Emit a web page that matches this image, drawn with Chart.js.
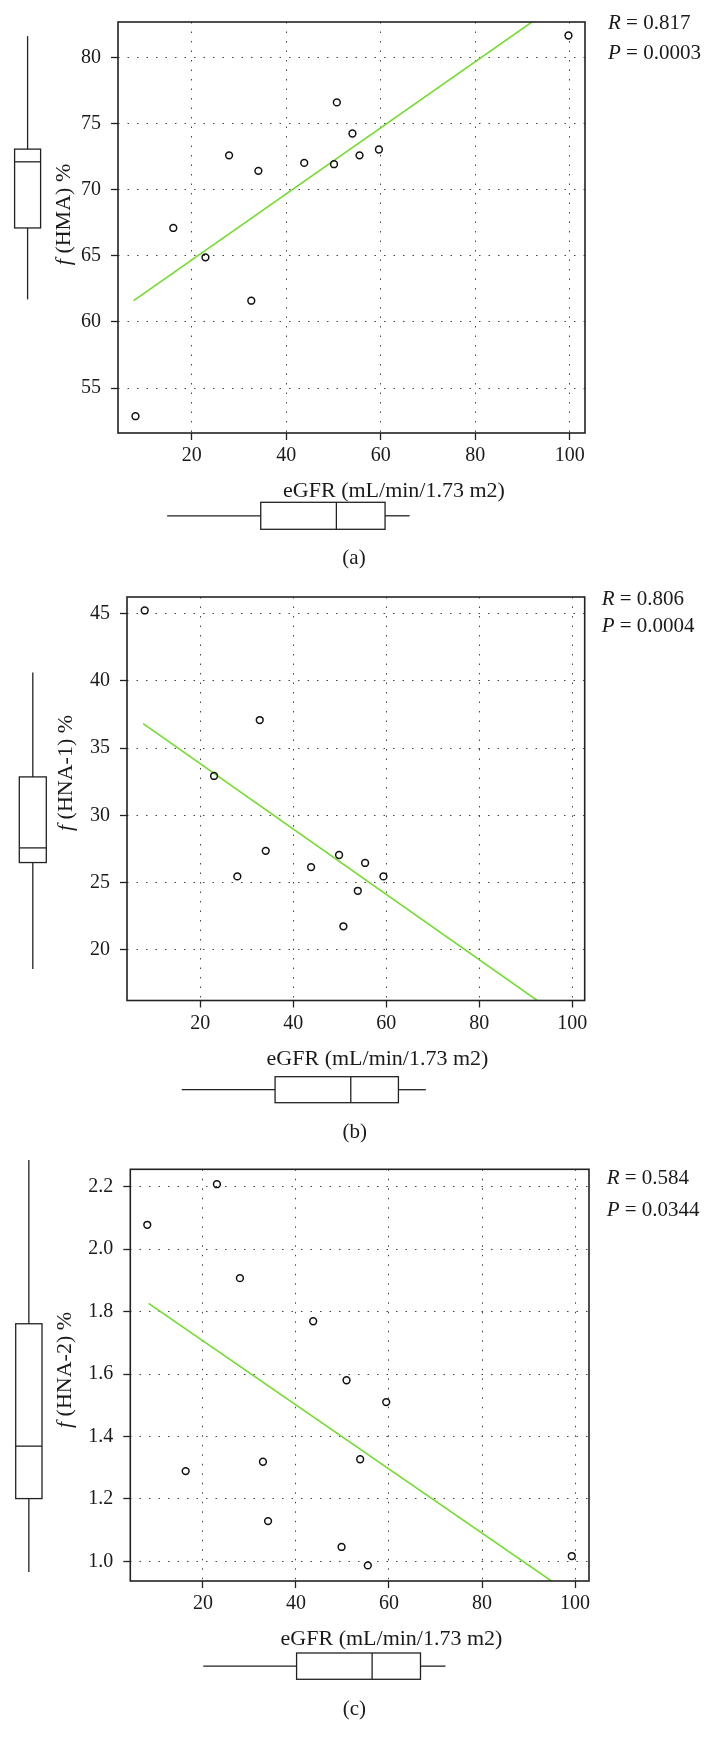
<!DOCTYPE html>
<html>
<head>
<meta charset="utf-8">
<script src="https://cdn.jsdelivr.net/npm/chart.js@4.4.0/dist/chart.umd.min.js"></script>
<style>
  body { margin: 0; background: #fff; }
  .panel { position: absolute; left: 0; width: 716px; }
</style>
</head>
<body>
<div class="panel" id="boxA"><canvas id="chartA"></canvas></div>
<div class="panel" id="boxB"><canvas id="chartB"></canvas></div>
<div class="panel" id="boxC"><canvas id="chartC"></canvas></div>
<script>
// shared x axis
const xTicks = [20, 40, 60, 80, 100];
const xName = 'eGFR (mL/min/1.73 m2)';

// (a) f(HMA) vs eGFR
const egfrA = [8.1, 16.1, 22.9, 27.9, 32.6, 34.1, 43.8, 50.1, 50.7, 54.0, 55.5, 59.6, 99.7];
const hmaA = [52.87, 67.1, 64.88, 72.59, 61.6, 71.42, 72.02, 71.92, 76.59, 74.24, 72.59, 73.03, 81.65];
const fitXA = [7.7, 99.7];
const fitYA = [61.6, 84.6];
const yTicksA = [55, 60, 65, 70, 75, 80];
const xLimA = [4.4, 103.2];
const yLimA = [51.6, 82.67];
const boxXA = [14.8, 34.6, 50.6, 60.9, 66.1];   // whisker, Q1, median, Q3, whisker
const boxYA = [61.7, 67.1, 72.1, 73.06, 81.6];

// (b) f(HNA-1) vs eGFR
const egfrB = [8.03, 22.95, 27.96, 32.78, 34.07, 43.83, 49.85, 50.78, 53.88, 55.45, 59.4];
const hna1B = [45.24, 32.93, 25.46, 37.09, 27.36, 26.15, 27.05, 21.75, 24.39, 26.46, 25.46];
const fitXB = [7.7, 99.3];
const fitYB = [36.82, 14.58];
const yTicksB = [20, 25, 30, 35, 40, 45];
const xLimB = [4.22, 102.7];
const yLimB = [16.23, 46.24];
const boxXB = [16.0, 36.08, 52.37, 62.62, 68.52];
const boxYB = [18.57, 26.49, 27.58, 32.86, 40.62];

// (c) f(HNA-2) vs eGFR
const egfrC = [8.03, 16.28, 23.0, 27.95, 32.9, 34.0, 43.7, 49.8, 50.87, 53.8, 55.45, 59.4, 99.3];
const hna2C = [2.078, 1.289, 2.208, 1.907, 1.319, 1.129, 1.769, 1.046, 1.58, 1.327, 0.987, 1.51, 1.017];
const fitXC = [8.3, 99.3];
const fitYC = [1.8263, 0.8922];
const yTicksC = [1.0, 1.2, 1.4, 1.6, 1.8, 2.0, 2.2];
const yLabelsC = ['1.0', '1.2', '1.4', '1.6', '1.8', '2.0', '2.2'];
const xLimC = [4.38, 103.0];
const yLimC = [0.937, 2.2558];
const boxXC = [20.06, 40.13, 56.37, 66.77, 72.14];
const boxYC = [0.966, 1.201, 1.369, 1.761, 2.2856];

// correlation text
const statsR = ['0.817', '0.806', '0.584'];
const statsP = ['0.0003', '0.0004', '0.0344'];

const FAMILY = "'Liberation Serif', 'DejaVu Serif', serif";
const INK = '#1a1a1a';
Chart.defaults.font.family = FAMILY;

// page positions of each panel (pixels)
const layoutA = {top: 0, height: 575, frame: [118, 585, 14, 433], xTitle: [394, 491], yTitle: [64, 214.5],
  hBox: [502.3, 529.3], vBox: [14.6, 40.6], tag: [354, 558], stats: [608, 23.3, 53.3]};
const layoutB = {top: 575, height: 570, frame: [127, 584.7, 14, 425.5], xTitle: [377.5, 484], yTitle: [66.7, 198],
  hBox: [501.7, 527.7], vBox: [19.3, 46.3], tag: [354.7, 557.3], stats: [601.7, 24.3, 51.7]};
const layoutC = {top: 1145, height: 607, frame: [130.3, 589, 24.3, 436], xTitle: [391.5, 494.3], yTitle: [65, 225],
  hBox: [508, 534.3], vBox: [15.7, 42], tag: [354.3, 564.3], stats: [606.7, 33.3, 65]};

// text with an italic first part, e.g. "f (HMA) %" or "R = 0.817"
function richText(ctx, parts, x, y, size, align) {
  const fonts = parts.map(p => (p[1] ? 'italic ' : '') + size + 'px ' + FAMILY);
  const widths = parts.map((p, i) => { ctx.font = fonts[i]; return ctx.measureText(p[0]).width; });
  const total = widths.reduce((s, w) => s + w, 0);
  let cx = align === 'center' ? x - total / 2 : x;
  ctx.textAlign = 'left';
  ctx.textBaseline = 'middle';
  parts.forEach((p, i) => {
    ctx.font = fonts[i];
    ctx.fillText(p[0], cx, y);
    cx += widths[i];
  });
}

const deco = {
  id: 'deco',
  afterDraw(chart, args, o) {
    const ctx = chart.ctx, a = chart.chartArea;
    const sx = chart.scales.x, sy = chart.scales.y;
    const L = o.layout;
    ctx.save();
    ctx.strokeStyle = '#222';
    ctx.lineWidth = 1.6;
    ctx.strokeRect(a.left, a.top, a.right - a.left, a.bottom - a.top);

    ctx.lineWidth = 1.3;
    const seg = (x1, y1, x2, y2) => { ctx.beginPath(); ctx.moveTo(x1, y1); ctx.lineTo(x2, y2); ctx.stroke(); };

    // horizontal box plot under the x axis
    const hx = o.boxX.map(v => sx.getPixelForValue(v));
    const [ht, hb] = L.hBox, hm = (ht + hb) / 2;
    seg(hx[0], hm, hx[1], hm);
    ctx.strokeRect(hx[1], ht, hx[3] - hx[1], hb - ht);
    seg(hx[2], ht, hx[2], hb);
    seg(hx[3], hm, hx[4], hm);

    // vertical box plot left of the y axis
    const vy = o.boxY.map(v => sy.getPixelForValue(v));
    const [vl, vr] = L.vBox, vm = (vl + vr) / 2;
    seg(vm, vy[0], vm, vy[1]);
    ctx.strokeRect(vl, vy[3], vr - vl, vy[1] - vy[3]);
    seg(vl, vy[2], vr, vy[2]);
    seg(vm, vy[3], vm, vy[4]);

    ctx.fillStyle = INK;
    richText(ctx, [[xName, false]], L.xTitle[0], L.xTitle[1], 22, 'center');
    richText(ctx, [[o.tag, false]], L.tag[0], L.tag[1], 21, 'center');
    richText(ctx, [['R', true], [' = ' + o.r, false]], L.stats[0], L.stats[1], 21, 'left');
    richText(ctx, [['P', true], [' = ' + o.p, false]], L.stats[0], L.stats[2], 21, 'left');

    ctx.translate(L.yTitle[0], L.yTitle[1]);
    ctx.rotate(-Math.PI / 2);
    richText(ctx, [['f', true], [' (' + o.yName + ') %', false]], 0, 0, 22, 'center');
    ctx.restore();
  }
};

function makePanel(boxId, canvasId, p, L) {
  const holder = document.getElementById(boxId);
  holder.style.top = L.top + 'px';
  holder.style.height = L.height + 'px';
  const yAxisW = 60, xAxisH = 44;
  const pts = p.x.map((v, i) => ({x: v, y: p.y[i]}));
  const fit = p.fitX.map((v, i) => ({x: v, y: p.fitY[i]}));
  const gridOpts = {color: '#444', lineWidth: 1, tickLength: 7, tickColor: '#222', tickWidth: 1.3, tickBorderDash: []};
  new Chart(document.getElementById(canvasId), {
    type: 'scatter',
    data: {
      datasets: [
        {data: pts, pointRadius: 3.4, pointHoverRadius: 3.4, pointBorderWidth: 1.5,
         borderColor: '#111', backgroundColor: 'rgba(0,0,0,0)'},
        {data: fit, showLine: true, borderColor: '#72dc2c', borderWidth: 1.6, pointRadius: 0, fill: false}
      ]
    },
    options: {
      responsive: true,
      maintainAspectRatio: false,
      animation: false,
      layout: {padding: {left: L.frame[0] - yAxisW, right: 716 - L.frame[1], top: L.frame[2],
        bottom: L.height - L.frame[3] - xAxisH}},
      plugins: {
        legend: {display: false},
        tooltip: {enabled: false},
        deco: {layout: L, boxX: p.boxX, boxY: p.boxY, tag: p.tag, r: p.r, p: p.p, yName: p.yName}
      },
      scales: {
        x: {
          type: 'linear', min: p.xLim[0], max: p.xLim[1],
          afterBuildTicks: ax => { ax.ticks = xTicks.map(v => ({value: v})); },
          afterFit: ax => { ax.height = xAxisH; },
          grid: gridOpts,
          border: {display: false, dash: [1.5, 8]},
          ticks: {font: {size: 20}, color: INK, padding: 4, maxRotation: 0, autoSkip: false}
        },
        y: {
          type: 'linear', min: p.yLim[0], max: p.yLim[1],
          afterBuildTicks: ax => { ax.ticks = p.yTicks.map(v => ({value: v})); },
          afterFit: ax => { ax.width = yAxisW; },
          grid: gridOpts,
          border: {display: false, dash: [1.5, 8]},
          ticks: {font: {size: 20}, color: INK, padding: 10, autoSkip: false,
            callback: (v, i) => p.yLabels[i]}
        }
      }
    },
    plugins: [deco]
  });
}

makePanel('boxA', 'chartA', {x: egfrA, y: hmaA, fitX: fitXA, fitY: fitYA, yTicks: yTicksA,
  yLabels: yTicksA.map(String), xLim: xLimA, yLim: yLimA, boxX: boxXA, boxY: boxYA,
  yName: 'HMA', r: statsR[0], p: statsP[0], tag: '(a)'}, layoutA);
makePanel('boxB', 'chartB', {x: egfrB, y: hna1B, fitX: fitXB, fitY: fitYB, yTicks: yTicksB,
  yLabels: yTicksB.map(String), xLim: xLimB, yLim: yLimB, boxX: boxXB, boxY: boxYB,
  yName: 'HNA-1', r: statsR[1], p: statsP[1], tag: '(b)'}, layoutB);
makePanel('boxC', 'chartC', {x: egfrC, y: hna2C, fitX: fitXC, fitY: fitYC, yTicks: yTicksC,
  yLabels: yLabelsC, xLim: xLimC, yLim: yLimC, boxX: boxXC, boxY: boxYC,
  yName: 'HNA-2', r: statsR[2], p: statsP[2], tag: '(c)'}, layoutC);
</script>
</body>
</html>
